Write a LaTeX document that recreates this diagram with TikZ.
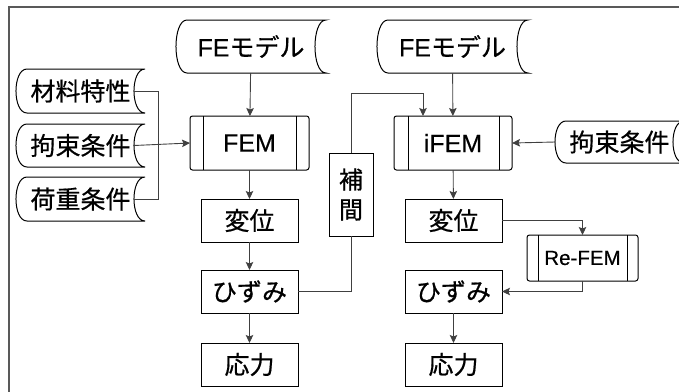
\documentclass[tikz,border=0pt]{standalone}
\usepackage{fontspec}
\setmainfont{Liberation Sans}[FakeBold=0.4]
\newfontfamily\jp{Noto Sans CJK JP}[FakeBold=0.6]
\usetikzlibrary{calc,arrows.meta}
\tikzset{
  x=1pt,y=-1pt,
  base/.style={inner sep=0pt,outer sep=0pt,font=\fontsize{25}{28}\selectfont,text=black},
  stor/.style={base},
  proc/.style={base,draw=black,line width=1pt,rounded corners=2.5pt},
  plain/.style={base,draw=black,line width=1pt},
  shp/.style={draw=black,line width=1pt},
  conn/.style={draw=black!75,line width=0.9pt},
  arr/.style={conn,-{Stealth[length=8pt,width=7.5pt,inset=1.5pt]}},
}
\begin{document}
\begin{tikzpicture}
\useasboundingbox (0,0) rectangle (679,391);
\clip (0,0) rectangle (679,391);
\draw[black!65,line width=1.4pt] (9,7) rectangle (720,420);
% stored data nodes
\node[stor,minimum width=150,minimum height=53] (fe1) at (251,46.5) {FE\jp モデル};
\node[stor,minimum width=151,minimum height=53] (fe2) at (452.5,46.5) {FE\jp モデル};
\node[stor,minimum width=129,minimum height=44] (mat) at (80.5,91) {\jp 材料特性};
\node[stor,minimum width=129,minimum height=43] (con) at (80.5,145.5) {\jp 拘束条件};
\node[stor,minimum width=129,minimum height=44] (load) at (80.5,199) {\jp 荷重条件};
\node[stor,minimum width=129,minimum height=42] (con2) at (619.5,142) {\jp 拘束条件};
\foreach \n in {fe1,fe2,mat,con,load,con2}{
  \draw[shp] ($(\n.north west)+(11,0)$) -- (\n.north east)
    .. controls ($(\n.north east)+(-14.7,0)$) and ($(\n.south east)+(-14.7,0)$) .. (\n.south east)
    -- ($(\n.south west)+(11,0)$)
    .. controls ($(\n.south west)+(-3.7,0)$) and ($(\n.north west)+(-3.7,0)$) .. cycle;
}
% predefined processes
\node[proc,minimum width=119,minimum height=54] (fem) at (249.5,143) {FEM};
\node[proc,minimum width=118,minimum height=54] (ifem) at (453,143) {iFEM};
\node[proc,minimum width=111,minimum height=46,font=\fontsize{20.5}{23}\selectfont] (refem) at (582.5,258) {Re-FEM};
\draw[shp] ($(fem.north west)+(13,0)$) -- ($(fem.south west)+(13,0)$);
\draw[shp] ($(fem.north east)+(-13,0)$) -- ($(fem.south east)+(-13,0)$);
\draw[shp] ($(ifem.north west)+(14,0)$) -- ($(ifem.south west)+(14,0)$);
\draw[shp] ($(ifem.north east)+(-13,0)$) -- ($(ifem.south east)+(-13,0)$);
\draw[shp] ($(refem.north west)+(11,0)$) -- ($(refem.south west)+(11,0)$);
\draw[shp] ($(refem.north east)+(-11,0)$) -- ($(refem.south east)+(-11,0)$);
% plain boxes
\node[plain,minimum width=97,minimum height=43] (d1) at (249.5,220.5) {\jp 変位};
\node[plain,minimum width=97,minimum height=43] (h1) at (249.5,291.5) {\jp ひずみ};
\node[plain,minimum width=97,minimum height=43] (s1) at (249.5,364.5) {\jp 応力};
\node[plain,minimum width=97,minimum height=43] (d2) at (453.5,220.5) {\jp 変位};
\node[plain,minimum width=97,minimum height=43] (h2) at (453.5,291.5) {\jp ひずみ};
\node[plain,minimum width=97,minimum height=43] (s2) at (453.5,364.5) {\jp 応力};
\node[plain,minimum width=44,minimum height=83,align=center,font=\fontsize{24}{30}\selectfont] (hokan) at (351,194.5) {\jp 補\\\jp 間};
% connectors
\coordinate (bend) at (423,93);
\draw[arr] (fe1) -- (fem);
\draw[arr] (fe2) -- (ifem);
\draw[conn] ($(mat.east)+(-11,0)$) -- (158,91) |- ($(load.east)+(-11,0)$);
\draw[arr] ($(con.east)+(-11,0)$) -- (fem.west);
\draw[arr] (fem) -- (d1);
\draw[arr] (d1) -- (h1);
\draw[arr] (h1) -- (s1);
\draw[conn] (h1.east) -| (hokan.south);
\draw[arr] (hokan.north) |- (bend) -- (bend |- ifem.north);
\draw[arr] (con2.west) -- (ifem.east);
\draw[arr] (ifem) -- (d2);
\draw[arr] (d2.east) -| (refem.north);
\draw[arr] (refem.south) |- (h2.east);
\draw[arr] (h2) -- (s2);
\end{tikzpicture}
\end{document}
